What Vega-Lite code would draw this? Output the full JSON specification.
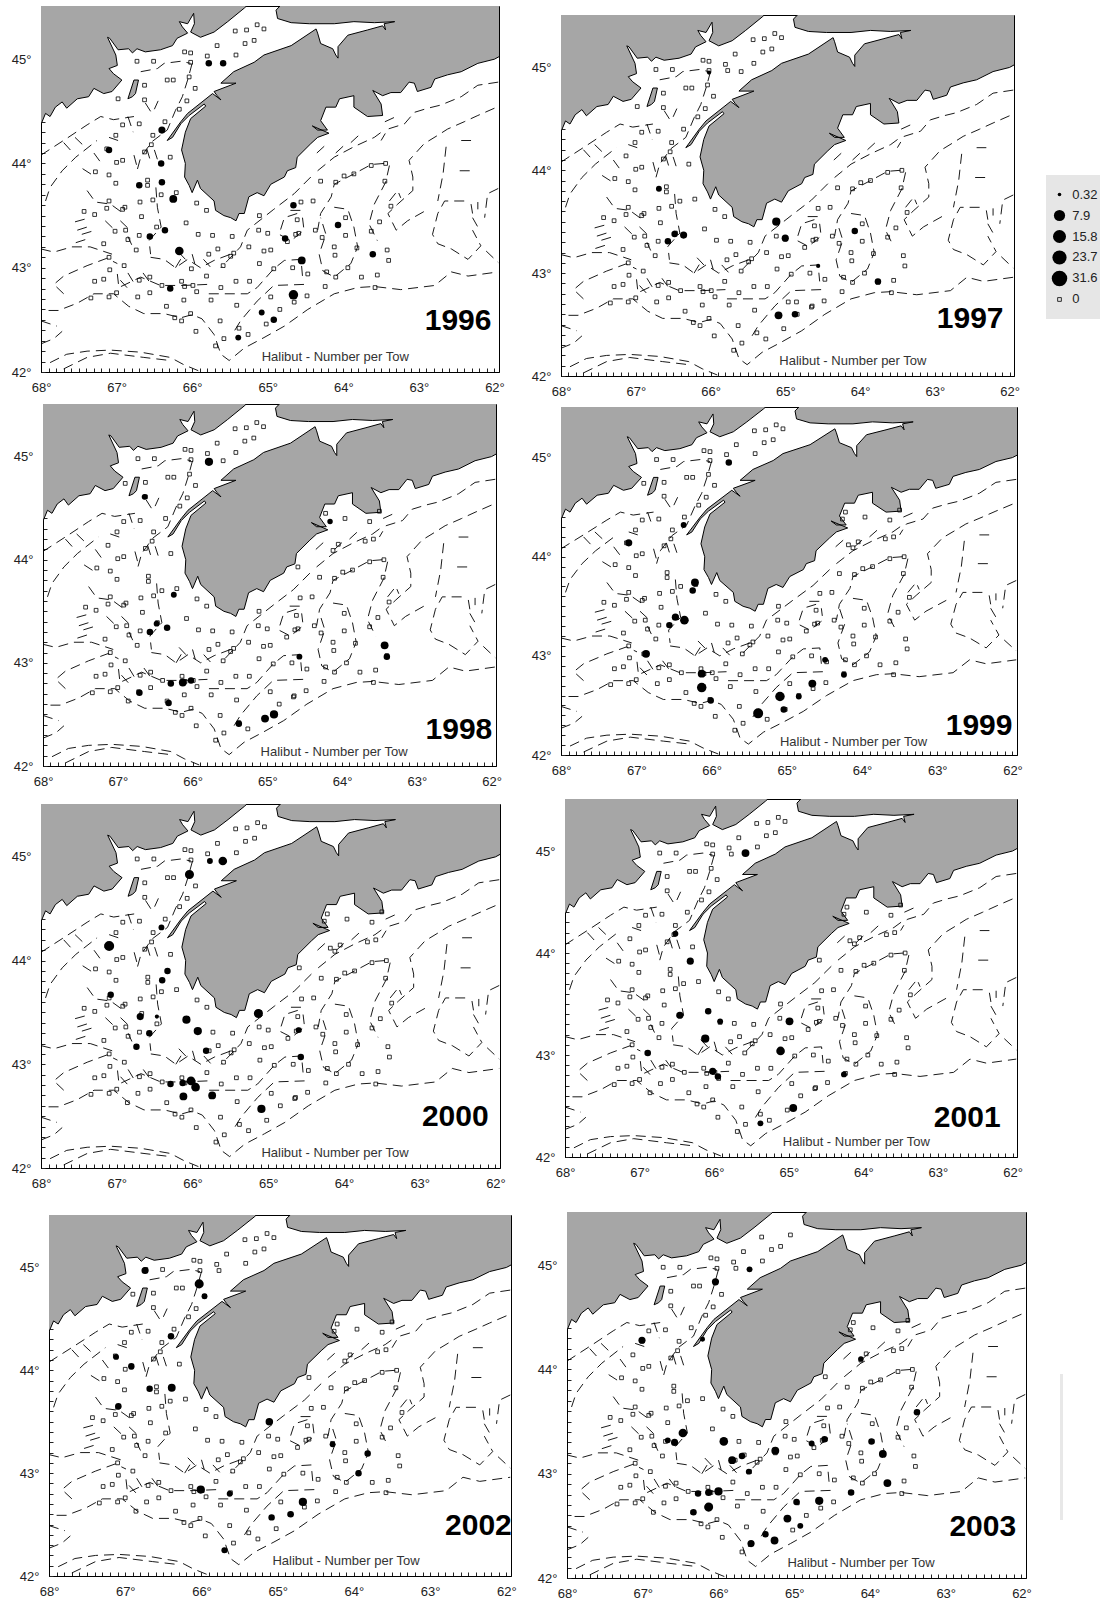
{"$schema":"https://vega.github.io/schema/vega-lite/v6.json","padding":0,"background":"white","spacing":0,"align":"none",
"config":{"view":{"stroke":null},"font":"Liberation Sans","axis":{"grid":false,"title":null,"labelFont":"Liberation Sans","labelFontSize":13,"labelColor":"#222","domainColor":"black","tickColor":"#222","tickSize":-4,"labelOverlap":false,"labelFlush":false},"axisX":{"tickCount":60,"labelPadding":13,"labelAngle":0},"axisY":{"tickCount":35,"labelPadding":14}},
"datasets":{
"sp":[{"s":1}],
"land":[
{"g":"a","lon":68.1,"lat":44.3},{"g":"a","lon":68,"lat":44.375},{"g":"a","lon":67.94,"lat":44.48},{"g":"a","lon":67.88,"lat":44.45},{"g":"a","lon":67.81,"lat":44.54},{"g":"a","lon":67.72,"lat":44.59},{"g":"a","lon":67.66,"lat":44.53},{"g":"a","lon":67.52,"lat":44.62},{"g":"a","lon":67.37,"lat":44.64},{"g":"a","lon":67.3,"lat":44.72},{"g":"a","lon":67.17,"lat":44.67},{"g":"a","lon":67.06,"lat":44.69},{"g":"a","lon":66.93,"lat":44.8},{"g":"a","lon":67.04,"lat":44.86},{"g":"a","lon":67.1,"lat":44.91},{"g":"a","lon":66.99,"lat":44.94},{"g":"a","lon":67.01,"lat":45.04},{"g":"a","lon":67.12,"lat":45.21},{"g":"a","lon":67.09,"lat":45.2},{"g":"a","lon":66.98,"lat":45.09},{"g":"a","lon":66.84,"lat":45.1},{"g":"a","lon":66.79,"lat":45.06},{"g":"a","lon":66.73,"lat":45.1},{"g":"a","lon":66.62,"lat":45.07},{"g":"a","lon":66.42,"lat":45.09},{"g":"a","lon":66.26,"lat":45.13},{"g":"a","lon":66.2,"lat":45.2},{"g":"a","lon":66.06,"lat":45.25},{"g":"a","lon":66.13,"lat":45.31},{"g":"a","lon":66.17,"lat":45.36},{"g":"a","lon":66.06,"lat":45.34},{"g":"a","lon":65.98,"lat":45.44},{"g":"a","lon":65.97,"lat":45.34},{"g":"a","lon":66.02,"lat":45.26},{"g":"a","lon":65.89,"lat":45.21},{"g":"a","lon":65.71,"lat":45.26},{"g":"a","lon":65.53,"lat":45.36},{"g":"a","lon":65.31,"lat":45.49},{"g":"a","lon":65.15,"lat":45.6},{"g":"a","lon":68.1,"lat":45.6},{"g":"a","lon":68.1,"lat":44.3},
{"g":"b","lon":64.72,"lat":45.6},{"g":"b","lon":64.89,"lat":45.47},{"g":"b","lon":64.87,"lat":45.39},{"g":"b","lon":64.69,"lat":45.35},{"g":"b","lon":64.45,"lat":45.34},{"g":"b","lon":64.12,"lat":45.34},{"g":"b","lon":63.86,"lat":45.36},{"g":"b","lon":63.59,"lat":45.35},{"g":"b","lon":63.32,"lat":45.36},{"g":"b","lon":63.46,"lat":45.34},{"g":"b","lon":63.44,"lat":45.28},{"g":"b","lon":63.48,"lat":45.32},{"g":"b","lon":63.68,"lat":45.28},{"g":"b","lon":63.94,"lat":45.23},{"g":"b","lon":64.07,"lat":45.12},{"g":"b","lon":64.07,"lat":45.01},{"g":"b","lon":64.1,"lat":45.04},{"g":"b","lon":64.14,"lat":45.1},{"g":"b","lon":64.3,"lat":45.15},{"g":"b","lon":64.34,"lat":45.25},{"g":"b","lon":64.36,"lat":45.29},{"g":"b","lon":64.69,"lat":45.13},{"g":"b","lon":65.05,"lat":45.04},{"g":"b","lon":65.18,"lat":44.97},{"g":"b","lon":65.45,"lat":44.88},{"g":"b","lon":65.62,"lat":44.77},{"g":"b","lon":65.42,"lat":44.77},{"g":"b","lon":65.71,"lat":44.69},{"g":"b","lon":65.67,"lat":44.65},{"g":"b","lon":65.62,"lat":44.61},{"g":"b","lon":65.73,"lat":44.67},{"g":"b","lon":66.06,"lat":44.48},{"g":"b","lon":66.15,"lat":44.4},{"g":"b","lon":66.33,"lat":44.22},{"g":"b","lon":66.26,"lat":44.25},{"g":"b","lon":66.15,"lat":44.38},{"g":"b","lon":66.04,"lat":44.46},{"g":"b","lon":65.84,"lat":44.57},{"g":"b","lon":65.82,"lat":44.55},{"g":"b","lon":66.02,"lat":44.43},{"g":"b","lon":66.09,"lat":44.3},{"g":"b","lon":66.14,"lat":44.13},{"g":"b","lon":66.09,"lat":44},{"g":"b","lon":66.1,"lat":43.87},{"g":"b","lon":66.04,"lat":43.79},{"g":"b","lon":66,"lat":43.72},{"g":"b","lon":65.93,"lat":43.84},{"g":"b","lon":65.89,"lat":43.76},{"g":"b","lon":65.71,"lat":43.64},{"g":"b","lon":65.69,"lat":43.55},{"g":"b","lon":65.58,"lat":43.5},{"g":"b","lon":65.49,"lat":43.48},{"g":"b","lon":65.42,"lat":43.45},{"g":"b","lon":65.38,"lat":43.52},{"g":"b","lon":65.31,"lat":43.52},{"g":"b","lon":65.25,"lat":43.68},{"g":"b","lon":65.14,"lat":43.72},{"g":"b","lon":65.05,"lat":43.69},{"g":"b","lon":64.96,"lat":43.8},{"g":"b","lon":64.78,"lat":43.87},{"g":"b","lon":64.74,"lat":43.93},{"g":"b","lon":64.63,"lat":43.96},{"g":"b","lon":64.61,"lat":44.06},{"g":"b","lon":64.43,"lat":44.19},{"g":"b","lon":64.34,"lat":44.25},{"g":"b","lon":64.19,"lat":44.29},{"g":"b","lon":64.41,"lat":44.36},{"g":"b","lon":64.34,"lat":44.32},{"g":"b","lon":64.21,"lat":44.32},{"g":"b","lon":64.3,"lat":44.41},{"g":"b","lon":64.23,"lat":44.54},{"g":"b","lon":64.1,"lat":44.54},{"g":"b","lon":64.05,"lat":44.62},{"g":"b","lon":63.86,"lat":44.65},{"g":"b","lon":63.86,"lat":44.54},{"g":"b","lon":63.68,"lat":44.45},{"g":"b","lon":63.48,"lat":44.46},{"g":"b","lon":63.5,"lat":44.57},{"g":"b","lon":63.61,"lat":44.7},{"g":"b","lon":63.48,"lat":44.65},{"g":"b","lon":63.37,"lat":44.68},{"g":"b","lon":63.24,"lat":44.68},{"g":"b","lon":63.13,"lat":44.78},{"g":"b","lon":63.06,"lat":44.77},{"g":"b","lon":63.02,"lat":44.69},{"g":"b","lon":62.84,"lat":44.73},{"g":"b","lon":62.79,"lat":44.81},{"g":"b","lon":62.62,"lat":44.85},{"g":"b","lon":62.44,"lat":44.88},{"g":"b","lon":62.22,"lat":44.96},{"g":"b","lon":62,"lat":45},{"g":"b","lon":61.9,"lat":45.04},{"g":"b","lon":61.9,"lat":45.6},{"g":"b","lon":64.72,"lat":45.6},
{"g":"c","lon":66.71,"lat":44.8},{"g":"c","lon":66.77,"lat":44.8},{"g":"c","lon":66.85,"lat":44.62},{"g":"c","lon":66.79,"lat":44.64},{"g":"c","lon":66.75,"lat":44.67},{"g":"c","lon":66.71,"lat":44.8}],
"cont":[
{"g":"A","lon":67.9,"lat":42.59},{"g":"A","lon":67.77,"lat":42.59},{"g":"A","lon":67.52,"lat":42.66},{"g":"A","lon":67.3,"lat":42.75},{"g":"A","lon":67.04,"lat":42.75},{"g":"A","lon":66.84,"lat":42.63},{"g":"A","lon":66.64,"lat":42.56},{"g":"A","lon":66.37,"lat":42.56},{"g":"A","lon":66.15,"lat":42.52},{"g":"A","lon":66,"lat":42.55},{"g":"A","lon":65.87,"lat":42.51},{"g":"A","lon":65.71,"lat":42.36},{"g":"A","lon":65.62,"lat":42.17},{"g":"A","lon":65.51,"lat":42.11},{"g":"A","lon":65.31,"lat":42.23},{"g":"A","lon":65.05,"lat":42.33},{"g":"A","lon":64.78,"lat":42.44},{"g":"A","lon":64.47,"lat":42.6},{"g":"A","lon":64.12,"lat":42.75},{"g":"A","lon":63.81,"lat":42.81},{"g":"A","lon":63.59,"lat":42.82},{"g":"A","lon":63.24,"lat":42.79},{"g":"A","lon":62.79,"lat":42.83},{"g":"A","lon":62.57,"lat":42.96},{"g":"A","lon":62.35,"lat":42.92},{"g":"A","lon":61.95,"lat":42.96},
{"g":"B","lon":67.7,"lat":42.75},{"g":"B","lon":67.83,"lat":42.84},{"g":"B","lon":67.7,"lat":42.92},{"g":"B","lon":67.39,"lat":43.02},{"g":"B","lon":67.13,"lat":43.09},{"g":"B","lon":66.99,"lat":43.04},
{"g":"C","lon":68,"lat":43.18},{"g":"C","lon":67.83,"lat":43.15},{"g":"C","lon":67.59,"lat":43.2},{"g":"C","lon":67.35,"lat":43.2},{"g":"C","lon":67.06,"lat":43.13},
{"g":"D","lon":68,"lat":44.08},{"g":"D","lon":67.83,"lat":44.16},{"g":"D","lon":67.66,"lat":44.24},{"g":"D","lon":67.39,"lat":44.37},{"g":"D","lon":67.21,"lat":44.45},{"g":"D","lon":67.04,"lat":44.42},{"g":"D","lon":66.77,"lat":44.45},
{"g":"D2","lon":67.94,"lat":43.64},{"g":"D2","lon":67.88,"lat":43.77},{"g":"D2","lon":67.72,"lat":43.93},{"g":"D2","lon":67.54,"lat":44.06},{"g":"D2","lon":67.26,"lat":44.22},
{"g":"E","lon":61.95,"lat":44.78},{"g":"E","lon":62.22,"lat":44.75},{"g":"E","lon":62.44,"lat":44.64},{"g":"E","lon":62.71,"lat":44.56},{"g":"E","lon":62.88,"lat":44.53},{"g":"E","lon":63.06,"lat":44.49},{"g":"E","lon":63.19,"lat":44.38},{"g":"E","lon":63.41,"lat":44.33},{"g":"E","lon":63.5,"lat":44.22},
{"g":"F","lon":62,"lat":44.53},{"g":"F","lon":62.22,"lat":44.46},{"g":"F","lon":62.4,"lat":44.4},{"g":"F","lon":62.62,"lat":44.33},{"g":"F","lon":62.75,"lat":44.27},{"g":"F","lon":62.93,"lat":44.19},{"g":"F","lon":63.13,"lat":44.03},{"g":"F","lon":63.08,"lat":43.87},{"g":"F","lon":63.08,"lat":43.74},{"g":"F","lon":63.28,"lat":43.61},{"g":"F","lon":63.41,"lat":43.52},{"g":"F","lon":63.3,"lat":43.36},{"g":"F","lon":63.15,"lat":43.45},{"g":"F","lon":62.88,"lat":43.56},
{"g":"F2","lon":62.4,"lat":43.64},{"g":"F2","lon":62.66,"lat":43.64},{"g":"F2","lon":62.75,"lat":43.52},{"g":"F2","lon":62.82,"lat":43.32},{"g":"F2","lon":62.75,"lat":43.23},{"g":"F2","lon":62.57,"lat":43.18},{"g":"F2","lon":62.35,"lat":43.08},{"g":"F2","lon":62.18,"lat":43.21},{"g":"F2","lon":62.29,"lat":43.36},
{"g":"F3","lon":62.64,"lat":44.16},{"g":"F3","lon":62.68,"lat":43.9},{"g":"F3","lon":62.75,"lat":43.64},
{"g":"F4","lon":61.95,"lat":43.76},{"g":"F4","lon":62.09,"lat":43.71},{"g":"F4","lon":62.13,"lat":43.48},
{"g":"F5","lon":62.11,"lat":43.16},{"g":"F5","lon":61.95,"lat":43.05},
{"g":"G","lon":64.43,"lat":43.87},{"g":"G","lon":64.65,"lat":43.71},{"g":"G","lon":64.92,"lat":43.56},{"g":"G","lon":65.27,"lat":43.36},{"g":"G","lon":65.36,"lat":43.2},{"g":"G","lon":65.49,"lat":43.1},{"g":"G","lon":65.62,"lat":43},
{"g":"G2","lon":63.46,"lat":44},{"g":"G2","lon":63.63,"lat":43.99},{"g":"G2","lon":63.86,"lat":43.9},{"g":"G2","lon":64.12,"lat":43.8},{"g":"G2","lon":64.16,"lat":43.68},{"g":"G2","lon":64.3,"lat":43.52},{"g":"G2","lon":64.34,"lat":43.36},
{"g":"H","lon":64.12,"lat":43.58},{"g":"H","lon":63.94,"lat":43.56},{"g":"H","lon":63.86,"lat":43.39},{"g":"H","lon":63.81,"lat":43.2},{"g":"H","lon":63.9,"lat":43.04},{"g":"H","lon":64.12,"lat":42.91},{"g":"H","lon":64.27,"lat":42.97},{"g":"H","lon":64.32,"lat":43.13},{"g":"H","lon":64.23,"lat":43.32},{"g":"H","lon":64.3,"lat":43.48},
{"g":"I","lon":64.61,"lat":43.52},{"g":"I","lon":64.78,"lat":43.48},{"g":"I","lon":64.85,"lat":43.32},{"g":"I","lon":64.69,"lat":43.26},{"g":"I","lon":64.52,"lat":43.36},{"g":"I","lon":64.54,"lat":43.48},
{"g":"J","lon":63.39,"lat":43.98},{"g":"J","lon":63.44,"lat":43.82},{"g":"J","lon":63.59,"lat":43.61},{"g":"J","lon":63.66,"lat":43.42},{"g":"J","lon":63.55,"lat":43.26},
{"g":"K1","lon":67.88,"lat":42.09},{"g":"K1","lon":67.66,"lat":42.17},{"g":"K1","lon":67.39,"lat":42.2},{"g":"K1","lon":67.08,"lat":42.21},{"g":"K1","lon":66.68,"lat":42.19},{"g":"K1","lon":66.29,"lat":42.14},{"g":"K1","lon":66.11,"lat":42.07},{"g":"K1","lon":65.91,"lat":42.01},
{"g":"K2","lon":67.7,"lat":42.03},{"g":"K2","lon":67.39,"lat":42.14},{"g":"K2","lon":67.08,"lat":42.18},{"g":"K2","lon":66.64,"lat":42.14},{"g":"K2","lon":66.29,"lat":42.11},
{"g":"L","lon":65.78,"lat":42.75},{"g":"L","lon":65.27,"lat":42.75},{"g":"L","lon":65.14,"lat":42.81},{"g":"L","lon":64.92,"lat":42.99},{"g":"L","lon":64.78,"lat":43.07},{"g":"L","lon":64.56,"lat":43.08},{"g":"L","lon":64.54,"lat":42.92},
{"g":"L2","lon":64.52,"lat":42.84},{"g":"L2","lon":64.92,"lat":42.83},{"g":"L2","lon":65.14,"lat":42.68},{"g":"L2","lon":65.36,"lat":42.49},{"g":"L2","lon":65.47,"lat":42.36},
{"g":"M","lon":66.55,"lat":43.1},{"g":"M","lon":66.37,"lat":43.08},{"g":"M","lon":66.22,"lat":43},{"g":"M","lon":66.06,"lat":43.08},{"g":"M","lon":65.89,"lat":43},{"g":"M","lon":65.71,"lat":43.07},{"g":"M","lon":65.49,"lat":43.13},
{"g":"N","lon":67.39,"lat":43.74},{"g":"N","lon":67.28,"lat":43.63},{"g":"N","lon":67.08,"lat":43.61},{"g":"N","lon":66.91,"lat":43.52},
{"g":"O","lon":66.48,"lat":43.77},{"g":"O","lon":66.46,"lat":43.58},{"g":"O","lon":66.41,"lat":43.39},{"g":"O","lon":66.57,"lat":43.26},{"g":"O","lon":66.55,"lat":43.13},
{"g":"P","lon":66.99,"lat":42.94},{"g":"P","lon":66.97,"lat":42.81},{"g":"P","lon":66.68,"lat":42.91},{"g":"P","lon":66.42,"lat":42.83},{"g":"P","lon":66.11,"lat":42.83},{"g":"P","lon":65.8,"lat":42.84},
{"g":"Q","lon":68,"lat":42.49},{"g":"Q","lon":67.79,"lat":42.44},
{"g":"Q2","lon":68,"lat":42.27},{"g":"Q2","lon":67.83,"lat":42.32},{"g":"Q2","lon":67.72,"lat":42.39},
{"g":"R","lon":66.68,"lat":44.88},{"g":"R","lon":66.46,"lat":44.91},{"g":"R","lon":66.37,"lat":44.96},{"g":"R","lon":66.15,"lat":44.98},{"g":"R","lon":66.02,"lat":44.96},
{"g":"S","lon":66,"lat":44.96},{"g":"S","lon":66.06,"lat":44.8},{"g":"S","lon":66.13,"lat":44.64},{"g":"S","lon":66.22,"lat":44.51},{"g":"S","lon":66.33,"lat":44.32},{"g":"S","lon":66.53,"lat":44.21},{"g":"S","lon":66.68,"lat":44.06},{"g":"S","lon":66.73,"lat":43.93},
{"g":"U","lon":64.34,"lat":43.93},{"g":"U","lon":64.12,"lat":44.06},{"g":"U","lon":63.86,"lat":44.16},{"g":"U","lon":63.59,"lat":44.25},{"g":"U","lon":63.46,"lat":44.32},
{"g":"V1","lon":67.52,"lat":43.36},{"g":"V1","lon":67.39,"lat":43.39},{"g":"V2","lon":67.46,"lat":43.32},{"g":"V2","lon":67.28,"lat":43.36},{"g":"V3","lon":67.54,"lat":43.24},{"g":"V3","lon":67.37,"lat":43.28},{"g":"V4","lon":62.46,"lat":43.93},{"g":"V4","lon":62.31,"lat":43.93},
{"g":"W","lon":63.39,"lat":43.64},{"g":"W","lon":63.28,"lat":43.74},{"g":"W","lon":63.24,"lat":43.67},{"g":"W2","lon":62.31,"lat":43.61},{"g":"W2","lon":62.29,"lat":43.52},{"g":"W3","lon":62.22,"lat":43.63},{"g":"W3","lon":62.22,"lat":43.56},{"g":"W4","lon":62.29,"lat":43.48},{"g":"W4","lon":62.22,"lat":43.39},{"g":"X","lon":62.44,"lat":44.22},{"g":"X","lon":62.31,"lat":44.22},
{"g":"s1","lon":66.77,"lat":44.08},{"g":"s1","lon":66.73,"lat":43.97},{"g":"s2","lon":66.6,"lat":44.14},{"g":"s2","lon":66.55,"lat":44.02},{"g":"s3","lon":66.5,"lat":44.13},{"g":"s3","lon":66.46,"lat":44.04},{"g":"s4","lon":66.85,"lat":44.45},{"g":"s4","lon":66.78,"lat":44.3},{"g":"s5","lon":66.62,"lat":44.58},{"g":"s5","lon":66.55,"lat":44.5},{"g":"s6","lon":66.45,"lat":44.6},{"g":"s6","lon":66.5,"lat":44.52},{"g":"s7","lon":67.7,"lat":44.2},{"g":"s7","lon":67.6,"lat":44.12},{"g":"s8","lon":67.55,"lat":44.25},{"g":"s8","lon":67.45,"lat":44.18},{"g":"s9","lon":67.45,"lat":43.95},{"g":"s9","lon":67.3,"lat":43.88},{"g":"s10","lon":67.3,"lat":44.1},{"g":"s10","lon":67.2,"lat":44},{"g":"s11","lon":67.1,"lat":44.25},{"g":"s11","lon":66.98,"lat":44.22},{"g":"s12","lon":66.95,"lat":43.45},{"g":"s12","lon":66.85,"lat":43.38},{"g":"s13","lon":66.85,"lat":43.3},{"g":"s13","lon":66.8,"lat":43.22},{"g":"s14","lon":67.15,"lat":43.45},{"g":"s14","lon":67.05,"lat":43.38},{"g":"s15","lon":67.55,"lat":43.44},{"g":"s15","lon":67.4,"lat":43.47},{"g":"s16","lon":66.22,"lat":43},{"g":"s16","lon":66.12,"lat":43.12},{"g":"s17","lon":66,"lat":43.13},{"g":"s17","lon":65.95,"lat":43},{"g":"s18","lon":66.18,"lat":43.15},{"g":"s18","lon":66.05,"lat":43.05},{"g":"s19","lon":65.85,"lat":43.08},{"g":"s19","lon":65.75,"lat":43},{"g":"s20","lon":66.85,"lat":42.95},{"g":"s20","lon":66.75,"lat":42.83},{"g":"s21","lon":66.65,"lat":42.95},{"g":"s21","lon":66.55,"lat":42.85},{"g":"s22","lon":66.95,"lat":42.88},{"g":"s22","lon":66.85,"lat":42.8},{"g":"s23","lon":64.35,"lat":44.1},{"g":"s23","lon":64.2,"lat":44.2},{"g":"s24","lon":64.1,"lat":44.1},{"g":"s24","lon":63.95,"lat":44.2},{"g":"s25","lon":63.9,"lat":44.2},{"g":"s25","lon":63.75,"lat":44.3},{"g":"s26","lon":63.45,"lat":44.4},{"g":"s26","lon":63.3,"lat":44.45},{"g":"s27","lon":64.7,"lat":43.55},{"g":"s27","lon":64.5,"lat":43.55}],
"st":[
{"lon":65.43,"lat":45.27,"ys":"all"},{"lon":65.28,"lat":45.28,"ys":"96 97 98 99 00 01 02"},{"lon":65.14,"lat":45.33,"ys":"96 97 98 99 00 01 02"},{"lon":65.05,"lat":45.29,"ys":"all"},{"lon":65.67,"lat":45.13,"ys":"all"},{"lon":65.3,"lat":45.15,"ys":"all"},{"lon":65.18,"lat":45.18,"ys":"all"},{"lon":65.42,"lat":45.04,"ys":"all"},{"lon":65.8,"lat":45.03,"ys":"all"},{"lon":66.1,"lat":45.07,"ys":"all"},{"lon":66.02,"lat":45.06,"ys":"all"},{"lon":66.73,"lat":44.98,"ys":"all"},{"lon":66.51,"lat":44.98,"ys":"all"},{"lon":66.02,"lat":44.97,"ys":"all"},{"lon":66.04,"lat":44.83,"ys":"all"},{"lon":66.33,"lat":44.8,"ys":"all"},{"lon":66.25,"lat":44.8,"ys":"all"},{"lon":65.96,"lat":44.72,"ys":"all"},{"lon":66.07,"lat":44.6,"ys":"all"},{"lon":66.17,"lat":44.52,"ys":"all"},{"lon":66.98,"lat":44.62,"ys":"96 97"},{"lon":66.63,"lat":44.75,"ys":"all"},{"lon":66.63,"lat":44.61,"ys":"all"},{"lon":66.36,"lat":44.4,"ys":"all"},{"lon":66.7,"lat":44.38,"ys":"all"},{"lon":66.92,"lat":44.37,"ys":"all"},{"lon":67.01,"lat":44.27,"ys":"all"},{"lon":66.52,"lat":44.27,"ys":"all"},{"lon":66.54,"lat":44.18,"ys":"all"},{"lon":66.63,"lat":44.11,"ys":"all"},{"lon":66.29,"lat":44.06,"ys":"96 97 98 00 01 02"},{"lon":67.13,"lat":44.14,"ys":"all"},{"lon":67,"lat":44.01,"ys":"all"},{"lon":66.92,"lat":44.03,"ys":"all"},{"lon":67.28,"lat":43.92,"ys":"all"},{"lon":67.1,"lat":43.89,"ys":"all"},{"lon":67.01,"lat":43.81,"ys":"all"},{"lon":66.59,"lat":43.79,"ys":"all"},{"lon":66.59,"lat":43.84,"ys":"all"},{"lon":66.21,"lat":43.72,"ys":"all"},{"lon":66.41,"lat":43.7,"ys":"all"},{"lon":66.52,"lat":43.65,"ys":"all"},{"lon":66.69,"lat":43.63,"ys":"all"},{"lon":67.1,"lat":43.64,"ys":"all"},{"lon":65.94,"lat":43.62,"ys":"all"},{"lon":65.81,"lat":43.55,"ys":"all"},{"lon":66.89,"lat":43.58,"ys":"all"},{"lon":67.13,"lat":43.57,"ys":"all"},{"lon":66.92,"lat":43.56,"ys":"all"},{"lon":67.43,"lat":43.54,"ys":"all"},{"lon":67.29,"lat":43.51,"ys":"all"},{"lon":66.67,"lat":43.49,"ys":"all"},{"lon":65.11,"lat":43.5,"ys":"all"},{"lon":66.08,"lat":43.43,"ys":"all"},{"lon":66.47,"lat":43.39,"ys":"all"},{"lon":64.61,"lat":43.46,"ys":"all"},{"lon":63.45,"lat":43.83,"ys":"all"},{"lon":63.44,"lat":44,"ys":"all"},{"lon":63.63,"lat":43.98,"ys":"all"},{"lon":63.86,"lat":43.9,"ys":"all"},{"lon":63.99,"lat":43.88,"ys":"all"},{"lon":64.1,"lat":43.82,"ys":"all"},{"lon":64.3,"lat":43.83,"ys":"all"},{"lon":64.56,"lat":43.63,"ys":"all"},{"lon":64.4,"lat":43.64,"ys":"all"},{"lon":63.37,"lat":43.59,"ys":"all"},{"lon":63.52,"lat":43.44,"ys":"all"},{"lon":63.97,"lat":43.48,"ys":"all"},{"lon":64.37,"lat":43.36,"ys":"all"},{"lon":64.28,"lat":43.29,"ys":"all"},{"lon":63.97,"lat":43.31,"ys":"all"},{"lon":63.63,"lat":43.35,"ys":"all"},{"lon":65.12,"lat":43.36,"ys":"all"},{"lon":65,"lat":43.33,"ys":"all"},{"lon":64.59,"lat":43.33,"ys":"all"},{"lon":64.63,"lat":43.32,"ys":"all"},{"lon":64.74,"lat":43.25,"ys":"all"},{"lon":65.47,"lat":43.3,"ys":"all"},{"lon":65.73,"lat":43.31,"ys":"all"},{"lon":65.92,"lat":43.32,"ys":"all"},{"lon":66.7,"lat":43.31,"ys":"all"},{"lon":66.88,"lat":43.36,"ys":"all"},{"lon":67.02,"lat":43.35,"ys":"all"},{"lon":66.85,"lat":43.27,"ys":"all"},{"lon":67.17,"lat":43.23,"ys":"all"},{"lon":66.74,"lat":43.17,"ys":"all"},{"lon":65.25,"lat":43.2,"ys":"all"},{"lon":65.45,"lat":43.14,"ys":"all"},{"lon":65.49,"lat":43.11,"ys":"all"},{"lon":65.66,"lat":43.18,"ys":"all"},{"lon":65.78,"lat":43.13,"ys":"all"},{"lon":65.05,"lat":43.16,"ys":"all"},{"lon":64.96,"lat":43.17,"ys":"all"},{"lon":63.42,"lat":43.17,"ys":"all"},{"lon":64.12,"lat":43.2,"ys":"all"},{"lon":64.11,"lat":43.12,"ys":"all"},{"lon":63.82,"lat":43.19,"ys":"all"},{"lon":63.4,"lat":43.07,"ys":"all"},{"lon":63.94,"lat":43,"ys":"all"},{"lon":67.1,"lat":43.1,"ys":"all"},{"lon":67.09,"lat":42.98,"ys":"all"},{"lon":66.9,"lat":43.02,"ys":"all"},{"lon":65.59,"lat":43.02,"ys":"all"},{"lon":65.11,"lat":43.04,"ys":"all"},{"lon":64.92,"lat":42.99,"ys":"all"},{"lon":64.67,"lat":43,"ys":"all"},{"lon":64.47,"lat":42.94,"ys":"all"},{"lon":64.22,"lat":42.96,"ys":"all"},{"lon":63.55,"lat":42.93,"ys":"all"},{"lon":63.76,"lat":42.91,"ys":"all"},{"lon":64.1,"lat":42.91,"ys":"all"},{"lon":66.01,"lat":42.99,"ys":"96"},{"lon":65.81,"lat":42.92,"ys":"all"},{"lon":67.29,"lat":42.87,"ys":"all"},{"lon":67.17,"lat":42.89,"ys":"all"},{"lon":66.56,"lat":42.91,"ys":"all"},{"lon":66.7,"lat":42.88,"ys":"all"},{"lon":66.14,"lat":42.87,"ys":"all"},{"lon":66.1,"lat":42.82,"ys":"all"},{"lon":65.99,"lat":42.83,"ys":"all"},{"lon":66.4,"lat":42.83,"ys":"all"},{"lon":65.42,"lat":42.87,"ys":"all"},{"lon":65.24,"lat":42.87,"ys":"all"},{"lon":65.62,"lat":42.81,"ys":"all"},{"lon":64.24,"lat":42.82,"ys":"all"},{"lon":63.58,"lat":42.81,"ys":"all"},{"lon":67.34,"lat":42.71,"ys":"all"},{"lon":67.1,"lat":42.72,"ys":"all"},{"lon":67,"lat":42.76,"ys":"all"},{"lon":66.72,"lat":42.72,"ys":"all"},{"lon":66.56,"lat":42.76,"ys":"all"},{"lon":65.94,"lat":42.77,"ys":"all"},{"lon":66.11,"lat":42.69,"ys":"all"},{"lon":65.75,"lat":42.69,"ys":"all"},{"lon":64.96,"lat":42.72,"ys":"all"},{"lon":64.48,"lat":42.73,"ys":"all"},{"lon":64.65,"lat":42.67,"ys":"all"},{"lon":66.34,"lat":42.63,"ys":"all"},{"lon":65.41,"lat":42.64,"ys":"all"},{"lon":64.84,"lat":42.6,"ys":"all"},{"lon":66.23,"lat":42.52,"ys":"all"},{"lon":66.14,"lat":42.49,"ys":"all"},{"lon":66.02,"lat":42.56,"ys":"all"},{"lon":65.63,"lat":42.49,"ys":"all"},{"lon":65.02,"lat":42.46,"ys":"all"},{"lon":65.95,"lat":42.39,"ys":"all"},{"lon":65.38,"lat":42.42,"ys":"all"},{"lon":65.26,"lat":42.36,"ys":"all"},{"lon":65.58,"lat":42.32,"ys":"all"},{"lon":65.69,"lat":42.25,"ys":"all"},
{"lon":64.64,"lat":42.68,"ys":"97 98 00 01"},{"lon":64.85,"lat":42.72,"ys":"97"},{"lon":65.77,"lat":44.97,"ys":"97 01 02 03"},{"lon":65.59,"lat":44.96,"ys":"97 98"},{"lon":66.9,"lat":44.74,"ys":"98 99 02"},{"lon":66.86,"lat":42.63,"ys":"98 00 01 02 03"},
{"lon":64.22,"lat":44.45,"ys":"98 99 00 01 02 03"},{"lon":63.96,"lat":44.4,"ys":"98 99 00 01 02 03"},{"lon":63.63,"lat":44.37,"ys":"98 99 00 01 02 03"},{"lon":63.69,"lat":44.18,"ys":"98 99 00 01 02 03"},{"lon":63.58,"lat":44.2,"ys":"98 99 00 01 02 03"},{"lon":63.5,"lat":44.47,"ys":"98 99 00 01 02 03"},{"lon":64.12,"lat":44.09,"ys":"98 99 00 01 02 03"},{"lon":64.05,"lat":44.15,"ys":"98 99 00 01 02 03"},{"lon":64.59,"lat":43.93,"ys":"98 00 01 02 03"},{"lon":64.26,"lat":44.38,"ys":"99 00 01 02 03"},{"lon":64.18,"lat":44.12,"ys":"99 00 01"}],
"pts":[
{"y":1996,"lon":65.78,"lat":44.96,"n":1.5},{"y":1996,"lon":65.59,"lat":44.96,"n":1.5},{"y":1996,"lon":66.4,"lat":44.32,"n":2.2},{"y":1996,"lon":67.1,"lat":44.13,"n":1.5},{"y":1996,"lon":66.41,"lat":44,"n":1.5},{"y":1996,"lon":66.7,"lat":43.79,"n":1.5},{"y":1996,"lon":66.4,"lat":43.82,"n":1.5},{"y":1996,"lon":66.25,"lat":43.66,"n":3},{"y":1996,"lon":64.66,"lat":43.6,"n":1.5},{"y":1996,"lon":64.07,"lat":43.41,"n":1.5},{"y":1996,"lon":66.36,"lat":43.36,"n":1.5},{"y":1996,"lon":66.56,"lat":43.3,"n":1.5},{"y":1996,"lon":64.77,"lat":43.28,"n":1.5},{"y":1996,"lon":66.17,"lat":43.16,"n":4},{"y":1996,"lon":64.55,"lat":43.07,"n":3},{"y":1996,"lon":63.61,"lat":43.13,"n":1.5},{"y":1996,"lon":66.29,"lat":42.8,"n":1.5},{"y":1996,"lon":64.66,"lat":42.74,"n":5.2},{"y":1996,"lon":65.08,"lat":42.57,"n":1.2},{"y":1996,"lon":64.92,"lat":42.5,"n":1.5},{"y":1996,"lon":65.39,"lat":42.33,"n":1.2},
{"y":1997,"lon":66.69,"lat":43.82,"n":1.2},{"y":1997,"lon":66.48,"lat":43.38,"n":1.5},{"y":1997,"lon":66.36,"lat":43.37,"n":2.2},{"y":1997,"lon":66.57,"lat":43.31,"n":1.5},{"y":1997,"lon":65.12,"lat":43.5,"n":3.5},{"y":1997,"lon":65,"lat":43.34,"n":2.2},{"y":1997,"lon":64.07,"lat":43.41,"n":1.5},{"y":1997,"lon":63.76,"lat":42.92,"n":1.5},{"y":1997,"lon":65.09,"lat":42.59,"n":3},{"y":1997,"lon":64.87,"lat":42.6,"n":1.5},{"y":1997,"lon":64.56,"lat":43.07,"n":0.5},{"y":1997,"lon":66.02,"lat":44.95,"n":0.5},
{"y":1998,"lon":65.78,"lat":44.95,"n":3.5},{"y":1998,"lon":66.64,"lat":44.61,"n":1.2},{"y":1998,"lon":64.16,"lat":44.37,"n":1},{"y":1998,"lon":66.25,"lat":43.66,"n":1.2},{"y":1998,"lon":66.48,"lat":43.38,"n":1.2},{"y":1998,"lon":66.34,"lat":43.34,"n":1.5},{"y":1998,"lon":66.57,"lat":43.3,"n":1.5},{"y":1998,"lon":64.57,"lat":43.06,"n":1.2},{"y":1998,"lon":63.43,"lat":43.17,"n":3},{"y":1998,"lon":63.4,"lat":43.06,"n":1.5},{"y":1998,"lon":66.71,"lat":42.71,"n":1.5},{"y":1998,"lon":66.29,"lat":42.8,"n":1.5},{"y":1998,"lon":66.13,"lat":42.81,"n":3},{"y":1998,"lon":66.02,"lat":42.83,"n":1.5},{"y":1998,"lon":66.32,"lat":42.61,"n":1.5},{"y":1998,"lon":65.38,"lat":42.41,"n":1.5},{"y":1998,"lon":65.03,"lat":42.46,"n":3},{"y":1998,"lon":64.91,"lat":42.5,"n":3.5},
{"y":1999,"lon":65.77,"lat":44.95,"n":1.5},{"y":1999,"lon":66.37,"lat":44.32,"n":1.2},{"y":1999,"lon":67.1,"lat":44.14,"n":2.2},{"y":1999,"lon":66.22,"lat":43.74,"n":3},{"y":1999,"lon":66.25,"lat":43.66,"n":1.5},{"y":1999,"lon":66.48,"lat":43.39,"n":2.2},{"y":1999,"lon":66.36,"lat":43.36,"n":4},{"y":1999,"lon":66.56,"lat":43.31,"n":1.5},{"y":1999,"lon":66.87,"lat":43.02,"n":3},{"y":1999,"lon":66.13,"lat":42.82,"n":3},{"y":1999,"lon":66.13,"lat":42.68,"n":5.2},{"y":1999,"lon":66.01,"lat":42.55,"n":1.5},{"y":1999,"lon":65.09,"lat":42.59,"n":5.2},{"y":1999,"lon":64.84,"lat":42.59,"n":1.2},{"y":1999,"lon":65.04,"lat":42.46,"n":1.5},{"y":1999,"lon":65.38,"lat":42.42,"n":6},{"y":1999,"lon":64.66,"lat":42.72,"n":3},{"y":1999,"lon":64.49,"lat":42.96,"n":1.2},{"y":1999,"lon":64.24,"lat":42.81,"n":1.2},
{"y":2000,"lon":65.6,"lat":44.96,"n":4},{"y":2000,"lon":65.77,"lat":44.96,"n":1.2},{"y":2000,"lon":66.04,"lat":44.83,"n":4.6},{"y":2000,"lon":66.41,"lat":44.32,"n":1.2},{"y":2000,"lon":67.1,"lat":44.14,"n":6},{"y":2000,"lon":66.33,"lat":43.9,"n":1.5},{"y":2000,"lon":66.4,"lat":43.81,"n":1.5},{"y":2000,"lon":67.08,"lat":43.67,"n":1.5},{"y":2000,"lon":65.13,"lat":43.49,"n":4.6},{"y":2000,"lon":66.69,"lat":43.46,"n":2.2},{"y":2000,"lon":66.08,"lat":43.43,"n":3.5},{"y":2000,"lon":65.93,"lat":43.32,"n":3.5},{"y":2000,"lon":66.57,"lat":43.3,"n":1.5},{"y":2000,"lon":64.6,"lat":43.33,"n":1.2},{"y":2000,"lon":66.74,"lat":43.17,"n":1.5},{"y":2000,"lon":65.82,"lat":43.13,"n":1.5},{"y":2000,"lon":64.57,"lat":43.07,"n":1.5},{"y":2000,"lon":66.47,"lat":43.46,"n":0.5},{"y":2000,"lon":66.29,"lat":42.81,"n":1.5},{"y":2000,"lon":66.13,"lat":42.82,"n":1.5},{"y":2000,"lon":66.02,"lat":42.84,"n":4},{"y":2000,"lon":65.96,"lat":42.78,"n":4},{"y":2000,"lon":66.12,"lat":42.69,"n":3},{"y":2000,"lon":65.74,"lat":42.7,"n":3},{"y":2000,"lon":65.09,"lat":42.57,"n":3.5},
{"y":2001,"lon":65.58,"lat":44.98,"n":3},{"y":2001,"lon":66.52,"lat":44.19,"n":1.2},{"y":2001,"lon":66.32,"lat":43.92,"n":2.2},{"y":2001,"lon":66.08,"lat":43.43,"n":1.5},{"y":2001,"lon":66.46,"lat":43.39,"n":2.2},{"y":2001,"lon":65.92,"lat":43.33,"n":1.2},{"y":2001,"lon":64.99,"lat":43.33,"n":3},{"y":2001,"lon":66.12,"lat":43.16,"n":3.5},{"y":2001,"lon":65.11,"lat":43.04,"n":4},{"y":2001,"lon":66.89,"lat":43.02,"n":1.5},{"y":2001,"lon":66.02,"lat":42.84,"n":2.2},{"y":2001,"lon":65.95,"lat":42.79,"n":1.5},{"y":2001,"lon":64.26,"lat":42.81,"n":1.2},{"y":2001,"lon":64.94,"lat":42.48,"n":3},{"y":2001,"lon":65.38,"lat":42.33,"n":1.2},
{"y":2002,"lon":66.74,"lat":44.97,"n":2.2},{"y":2002,"lon":66.03,"lat":44.84,"n":4.6},{"y":2002,"lon":65.96,"lat":44.72,"n":1.2},{"y":2002,"lon":66.4,"lat":44.33,"n":1.5},{"y":2002,"lon":67.12,"lat":44.13,"n":1.2},{"y":2002,"lon":66.92,"lat":44.04,"n":1.5},{"y":2002,"lon":66.68,"lat":43.82,"n":1.5},{"y":2002,"lon":66.39,"lat":43.83,"n":3},{"y":2002,"lon":67.09,"lat":43.65,"n":1.5},{"y":2002,"lon":65.11,"lat":43.5,"n":2.6},{"y":2002,"lon":64.28,"lat":43.28,"n":1.2},{"y":2002,"lon":63.82,"lat":43.19,"n":1.5},{"y":2002,"lon":63.94,"lat":43,"n":1.5},{"y":2002,"lon":66.01,"lat":42.84,"n":3.5},{"y":2002,"lon":65.63,"lat":42.8,"n":1.2},{"y":2002,"lon":64.67,"lat":42.72,"n":3.5},{"y":2002,"lon":65.08,"lat":42.57,"n":1.5},{"y":2002,"lon":64.83,"lat":42.6,"n":1.5},{"y":2002,"lon":65.7,"lat":42.25,"n":1.2},
{"y":2003,"lon":67.01,"lat":44.28,"n":2.2},{"y":2003,"lon":65.59,"lat":44.96,"n":1.2},{"y":2003,"lon":66.04,"lat":44.84,"n":2.2},{"y":2003,"lon":66.21,"lat":44.29,"n":0.8},{"y":2003,"lon":64.12,"lat":44.1,"n":1},{"y":2003,"lon":63.38,"lat":43.59,"n":1.5},{"y":2003,"lon":66.47,"lat":43.39,"n":4},{"y":2003,"lon":66.58,"lat":43.3,"n":2.2},{"y":2003,"lon":66.67,"lat":43.32,"n":1.2},{"y":2003,"lon":65.93,"lat":43.31,"n":4},{"y":2003,"lon":65.25,"lat":43.22,"n":3},{"y":2003,"lon":64.77,"lat":43.29,"n":1.2},{"y":2003,"lon":64.6,"lat":43.33,"n":1.5},{"y":2003,"lon":63.98,"lat":43.31,"n":1.5},{"y":2003,"lon":63.83,"lat":43.19,"n":3},{"y":2003,"lon":65.69,"lat":43.17,"n":1.5},{"y":2003,"lon":65.82,"lat":43.13,"n":3},{"y":2003,"lon":65.6,"lat":43.02,"n":1.2},{"y":2003,"lon":63.77,"lat":42.91,"n":3},{"y":2003,"lon":64.25,"lat":42.82,"n":1.5},{"y":2003,"lon":66.27,"lat":42.81,"n":1.5},{"y":2003,"lon":66.13,"lat":42.82,"n":2.2},{"y":2003,"lon":66,"lat":42.83,"n":3.5},{"y":2003,"lon":66.13,"lat":42.68,"n":4.6},{"y":2003,"lon":66.33,"lat":42.63,"n":1.5},{"y":2003,"lon":64.67,"lat":42.74,"n":3.5},{"y":2003,"lon":64.97,"lat":42.73,"n":1.5},{"y":2003,"lon":65.09,"lat":42.57,"n":3},{"y":2003,"lon":64.92,"lat":42.5,"n":1.2},{"y":2003,"lon":65.38,"lat":42.42,"n":1.5},{"y":2003,"lon":65.26,"lat":42.36,"n":3},{"y":2003,"lon":65.57,"lat":42.33,"n":2.2}],
"txt":[
{"y":1996,"k":"y","lon":62.04,"lat":42.49,"t":"1996"},{"y":1996,"k":"h","lon":65.08,"lat":42.14,"t":"Halibut - Number per Tow"},
{"y":1997,"k":"y","lon":62.08,"lat":42.55,"t":"1997"},{"y":1997,"k":"h","lon":65.08,"lat":42.145,"t":"Halibut - Number per Tow"},
{"y":1998,"k":"y","lon":61.99,"lat":42.35,"t":"1998"},{"y":1998,"k":"h","lon":65.09,"lat":42.14,"t":"Halibut - Number per Tow"},
{"y":1999,"k":"y","lon":62,"lat":42.29,"t":"1999"},{"y":1999,"k":"h","lon":65.09,"lat":42.13,"t":"Halibut - Number per Tow"},
{"y":2000,"k":"y","lon":62.09,"lat":42.49,"t":"2000"},{"y":2000,"k":"h","lon":65.09,"lat":42.14,"t":"Halibut - Number per Tow"},
{"y":2001,"k":"y","lon":62.16,"lat":42.38,"t":"2001"},{"y":2001,"k":"h","lon":65.08,"lat":42.15,"t":"Halibut - Number per Tow"},
{"y":2002,"k":"y","lon":61.93,"lat":42.49,"t":"2002"},{"y":2002,"k":"h","lon":65.07,"lat":42.15,"t":"Halibut - Number per Tow"},
{"y":2003,"k":"y","lon":62.07,"lat":42.49,"t":"2003"},{"y":2003,"k":"h","lon":65.09,"lat":42.14,"t":"Halibut - Number per Tow"}],
"leg":[{"l":"0.32","n":0.32},{"l":"7.9","n":7.9},{"l":"15.8","n":15.8},{"l":"23.7","n":23.7},{"l":"31.6","n":31.6},{"l":"0","n":0}]
},
"hconcat":[
{"vconcat":[
{"hconcat":[{"width":41,"height":1,"data":{"name":"sp"},"mark":{"type":"rect","opacity":0},"encoding":{"x":{"value":0},"x2":{"value":"width"},"y":{"value":0},"y2":{"value":"height"}}},
{"width":458,"height":366,"view":{"stroke":"black"},"encoding":{"x":{"field":"lon","type":"quantitative","scale":{"domain":[68,61.94]},"axis":{"labelExpr":"datum.value%1==0?datum.value+'°':''"}},"y":{"field":"lat","type":"quantitative","scale":{"domain":[42,45.51]},"axis":{"labelExpr":"datum.value%1==0?datum.value+'°':''"}}},"layer":[
{"data":{"name":"land"},"transform":[{"window":[{"op":"row_number","as":"o"}],"groupby":["g"]}],"mark":{"type":"line","fill":"#a6a6a6","stroke":"black","strokeWidth":1,"clip":true},"encoding":{"detail":{"field":"g"},"order":{"field":"o"}}},
{"data":{"name":"cont"},"transform":[{"window":[{"op":"row_number","as":"o"}],"groupby":["g"]}],"mark":{"type":"line","stroke":"black","strokeWidth":0.9,"strokeDash":[10,6],"clip":true},"encoding":{"detail":{"field":"g"},"order":{"field":"o"}}},
{"data":{"name":"st"},"transform":[{"filter":"datum.ys=='all'||indexof(datum.ys,'96')>=0"}],"mark":{"type":"point","shape":"square","size":14,"filled":false,"stroke":"black","strokeWidth":0.8,"opacity":1},"encoding":{}},
{"data":{"name":"pts"},"transform":[{"filter":"datum.y==1996"}],"mark":{"type":"point","filled":true,"color":"black","opacity":1,"shape":"circle"},"encoding":{"size":{"field":"n","type":"quantitative","legend":null,"scale":{"domain":[0.32,1.5,7.9,15.8,23.7,31.6],"range":[13,42,125,170,201,240]}}}},
{"data":{"name":"txt"},"transform":[{"filter":"datum.y==1996&&datum.k=='y'"}],"mark":{"type":"text","align":"right","baseline":"middle","fontSize":30,"fontWeight":"bold","color":"black"},"encoding":{"text":{"field":"t"}}},
{"data":{"name":"txt"},"transform":[{"filter":"datum.y==1996&&datum.k=='h'"}],"mark":{"type":"text","align":"left","baseline":"middle","fontSize":13,"color":"#333"},"encoding":{"text":{"field":"t"}}}]}
],"spacing":0,"bounds":"flush"},
{"width":1,"height":3,"data":{"name":"sp"},"mark":{"type":"rect","opacity":0},"encoding":{"x":{"value":0},"x2":{"value":"width"},"y":{"value":0},"y2":{"value":"height"}}},
{"hconcat":[{"width":43,"height":1,"data":{"name":"sp"},"mark":{"type":"rect","opacity":0},"encoding":{"x":{"value":0},"x2":{"value":"width"},"y":{"value":0},"y2":{"value":"height"}}},
{"width":453,"height":362,"view":{"stroke":"black"},"encoding":{"x":{"field":"lon","type":"quantitative","scale":{"domain":[68,61.94]},"axis":{"labelExpr":"datum.value%1==0?datum.value+'°':''"}},"y":{"field":"lat","type":"quantitative","scale":{"domain":[42,45.51]},"axis":{"labelExpr":"datum.value%1==0?datum.value+'°':''"}}},"layer":[
{"data":{"name":"land"},"transform":[{"window":[{"op":"row_number","as":"o"}],"groupby":["g"]}],"mark":{"type":"line","fill":"#a6a6a6","stroke":"black","strokeWidth":1,"clip":true},"encoding":{"detail":{"field":"g"},"order":{"field":"o"}}},
{"data":{"name":"cont"},"transform":[{"window":[{"op":"row_number","as":"o"}],"groupby":["g"]}],"mark":{"type":"line","stroke":"black","strokeWidth":0.9,"strokeDash":[10,6],"clip":true},"encoding":{"detail":{"field":"g"},"order":{"field":"o"}}},
{"data":{"name":"st"},"transform":[{"filter":"datum.ys=='all'||indexof(datum.ys,'98')>=0"}],"mark":{"type":"point","shape":"square","size":14,"filled":false,"stroke":"black","strokeWidth":0.8,"opacity":1},"encoding":{}},
{"data":{"name":"pts"},"transform":[{"filter":"datum.y==1998"}],"mark":{"type":"point","filled":true,"color":"black","opacity":1,"shape":"circle"},"encoding":{"size":{"field":"n","type":"quantitative","legend":null,"scale":{"domain":[0.32,1.5,7.9,15.8,23.7,31.6],"range":[13,42,125,170,201,240]}}}},
{"data":{"name":"txt"},"transform":[{"filter":"datum.y==1998&&datum.k=='y'"}],"mark":{"type":"text","align":"right","baseline":"middle","fontSize":30,"fontWeight":"bold","color":"black"},"encoding":{"text":{"field":"t"}}},
{"data":{"name":"txt"},"transform":[{"filter":"datum.y==1998&&datum.k=='h'"}],"mark":{"type":"text","align":"left","baseline":"middle","fontSize":13,"color":"#333"},"encoding":{"text":{"field":"t"}}}]}
],"spacing":0,"bounds":"flush"},
{"width":1,"height":9,"data":{"name":"sp"},"mark":{"type":"rect","opacity":0},"encoding":{"x":{"value":0},"x2":{"value":"width"},"y":{"value":0},"y2":{"value":"height"}}},
{"hconcat":[{"width":41,"height":1,"data":{"name":"sp"},"mark":{"type":"rect","opacity":0},"encoding":{"x":{"value":0},"x2":{"value":"width"},"y":{"value":0},"y2":{"value":"height"}}},
{"width":459,"height":364,"view":{"stroke":"black"},"encoding":{"x":{"field":"lon","type":"quantitative","scale":{"domain":[68,61.94]},"axis":{"labelExpr":"datum.value%1==0?datum.value+'°':''"}},"y":{"field":"lat","type":"quantitative","scale":{"domain":[42,45.51]},"axis":{"labelExpr":"datum.value%1==0?datum.value+'°':''"}}},"layer":[
{"data":{"name":"land"},"transform":[{"window":[{"op":"row_number","as":"o"}],"groupby":["g"]}],"mark":{"type":"line","fill":"#a6a6a6","stroke":"black","strokeWidth":1,"clip":true},"encoding":{"detail":{"field":"g"},"order":{"field":"o"}}},
{"data":{"name":"cont"},"transform":[{"window":[{"op":"row_number","as":"o"}],"groupby":["g"]}],"mark":{"type":"line","stroke":"black","strokeWidth":0.9,"strokeDash":[10,6],"clip":true},"encoding":{"detail":{"field":"g"},"order":{"field":"o"}}},
{"data":{"name":"st"},"transform":[{"filter":"datum.ys=='all'||indexof(datum.ys,'00')>=0"}],"mark":{"type":"point","shape":"square","size":14,"filled":false,"stroke":"black","strokeWidth":0.8,"opacity":1},"encoding":{}},
{"data":{"name":"pts"},"transform":[{"filter":"datum.y==2000"}],"mark":{"type":"point","filled":true,"color":"black","opacity":1,"shape":"circle"},"encoding":{"size":{"field":"n","type":"quantitative","legend":null,"scale":{"domain":[0.32,1.5,7.9,15.8,23.7,31.6],"range":[13,42,125,170,201,240]}}}},
{"data":{"name":"txt"},"transform":[{"filter":"datum.y==2000&&datum.k=='y'"}],"mark":{"type":"text","align":"right","baseline":"middle","fontSize":30,"fontWeight":"bold","color":"black"},"encoding":{"text":{"field":"t"}}},
{"data":{"name":"txt"},"transform":[{"filter":"datum.y==2000&&datum.k=='h'"}],"mark":{"type":"text","align":"left","baseline":"middle","fontSize":13,"color":"#333"},"encoding":{"text":{"field":"t"}}}]}
],"spacing":0,"bounds":"flush"},
{"width":1,"height":18,"data":{"name":"sp"},"mark":{"type":"rect","opacity":0},"encoding":{"x":{"value":0},"x2":{"value":"width"},"y":{"value":0},"y2":{"value":"height"}}},
{"hconcat":[{"width":49,"height":1,"data":{"name":"sp"},"mark":{"type":"rect","opacity":0},"encoding":{"x":{"value":0},"x2":{"value":"width"},"y":{"value":0},"y2":{"value":"height"}}},
{"width":462,"height":361,"view":{"stroke":"black"},"encoding":{"x":{"field":"lon","type":"quantitative","scale":{"domain":[68,61.94]},"axis":{"labelExpr":"datum.value%1==0?datum.value+'°':''"}},"y":{"field":"lat","type":"quantitative","scale":{"domain":[42,45.51]},"axis":{"labelExpr":"datum.value%1==0?datum.value+'°':''"}}},"layer":[
{"data":{"name":"land"},"transform":[{"window":[{"op":"row_number","as":"o"}],"groupby":["g"]}],"mark":{"type":"line","fill":"#a6a6a6","stroke":"black","strokeWidth":1,"clip":true},"encoding":{"detail":{"field":"g"},"order":{"field":"o"}}},
{"data":{"name":"cont"},"transform":[{"window":[{"op":"row_number","as":"o"}],"groupby":["g"]}],"mark":{"type":"line","stroke":"black","strokeWidth":0.9,"strokeDash":[10,6],"clip":true},"encoding":{"detail":{"field":"g"},"order":{"field":"o"}}},
{"data":{"name":"st"},"transform":[{"filter":"datum.ys=='all'||indexof(datum.ys,'02')>=0"}],"mark":{"type":"point","shape":"square","size":14,"filled":false,"stroke":"black","strokeWidth":0.8,"opacity":1},"encoding":{}},
{"data":{"name":"pts"},"transform":[{"filter":"datum.y==2002"}],"mark":{"type":"point","filled":true,"color":"black","opacity":1,"shape":"circle"},"encoding":{"size":{"field":"n","type":"quantitative","legend":null,"scale":{"domain":[0.32,1.5,7.9,15.8,23.7,31.6],"range":[13,42,125,170,201,240]}}}},
{"data":{"name":"txt"},"transform":[{"filter":"datum.y==2002&&datum.k=='y'"}],"mark":{"type":"text","align":"right","baseline":"middle","fontSize":30,"fontWeight":"bold","color":"black"},"encoding":{"text":{"field":"t"}}},
{"data":{"name":"txt"},"transform":[{"filter":"datum.y==2002&&datum.k=='h'"}],"mark":{"type":"text","align":"left","baseline":"middle","fontSize":13,"color":"#333"},"encoding":{"text":{"field":"t"}}}]}
],"spacing":0,"bounds":"flush"}
],"spacing":0,"align":"none"},
{"vconcat":[
{"width":1,"height":3,"data":{"name":"sp"},"mark":{"type":"rect","opacity":0},"encoding":{"x":{"value":0},"x2":{"value":"width"},"y":{"value":0},"y2":{"value":"height"}}},
{"hconcat":[{"width":44,"height":1,"data":{"name":"sp"},"mark":{"type":"rect","opacity":0},"encoding":{"x":{"value":0},"x2":{"value":"width"},"y":{"value":0},"y2":{"value":"height"}}},
{"width":453,"height":361,"view":{"stroke":"black"},"encoding":{"x":{"field":"lon","type":"quantitative","scale":{"domain":[68,61.94]},"axis":{"labelExpr":"datum.value%1==0?datum.value+'°':''"}},"y":{"field":"lat","type":"quantitative","scale":{"domain":[42,45.51]},"axis":{"labelExpr":"datum.value%1==0?datum.value+'°':''"}}},"layer":[
{"data":{"name":"land"},"transform":[{"window":[{"op":"row_number","as":"o"}],"groupby":["g"]}],"mark":{"type":"line","fill":"#a6a6a6","stroke":"black","strokeWidth":1,"clip":true},"encoding":{"detail":{"field":"g"},"order":{"field":"o"}}},
{"data":{"name":"cont"},"transform":[{"window":[{"op":"row_number","as":"o"}],"groupby":["g"]}],"mark":{"type":"line","stroke":"black","strokeWidth":0.9,"strokeDash":[10,6],"clip":true},"encoding":{"detail":{"field":"g"},"order":{"field":"o"}}},
{"data":{"name":"st"},"transform":[{"filter":"datum.ys=='all'||indexof(datum.ys,'97')>=0"}],"mark":{"type":"point","shape":"square","size":14,"filled":false,"stroke":"black","strokeWidth":0.8,"opacity":1},"encoding":{}},
{"data":{"name":"pts"},"transform":[{"filter":"datum.y==1997"}],"mark":{"type":"point","filled":true,"color":"black","opacity":1,"shape":"circle"},"encoding":{"size":{"field":"n","type":"quantitative","legend":null,"scale":{"domain":[0.32,1.5,7.9,15.8,23.7,31.6],"range":[13,42,125,170,201,240]}}}},
{"data":{"name":"txt"},"transform":[{"filter":"datum.y==1997&&datum.k=='y'"}],"mark":{"type":"text","align":"right","baseline":"middle","fontSize":30,"fontWeight":"bold","color":"black"},"encoding":{"text":{"field":"t"}}},
{"data":{"name":"txt"},"transform":[{"filter":"datum.y==1997&&datum.k=='h'"}],"mark":{"type":"text","align":"left","baseline":"middle","fontSize":13,"color":"#333"},"encoding":{"text":{"field":"t"}}}]}
],"spacing":0,"bounds":"flush"},
{"width":1,"height":2,"data":{"name":"sp"},"mark":{"type":"rect","opacity":0},"encoding":{"x":{"value":0},"x2":{"value":"width"},"y":{"value":0},"y2":{"value":"height"}}},
{"hconcat":[{"width":44,"height":1,"data":{"name":"sp"},"mark":{"type":"rect","opacity":0},"encoding":{"x":{"value":0},"x2":{"value":"width"},"y":{"value":0},"y2":{"value":"height"}}},
{"width":456,"height":348,"view":{"stroke":"black"},"encoding":{"x":{"field":"lon","type":"quantitative","scale":{"domain":[68,61.94]},"axis":{"labelExpr":"datum.value%1==0?datum.value+'°':''"}},"y":{"field":"lat","type":"quantitative","scale":{"domain":[42,45.51]},"axis":{"labelExpr":"datum.value%1==0?datum.value+'°':''"}}},"layer":[
{"data":{"name":"land"},"transform":[{"window":[{"op":"row_number","as":"o"}],"groupby":["g"]}],"mark":{"type":"line","fill":"#a6a6a6","stroke":"black","strokeWidth":1,"clip":true},"encoding":{"detail":{"field":"g"},"order":{"field":"o"}}},
{"data":{"name":"cont"},"transform":[{"window":[{"op":"row_number","as":"o"}],"groupby":["g"]}],"mark":{"type":"line","stroke":"black","strokeWidth":0.9,"strokeDash":[10,6],"clip":true},"encoding":{"detail":{"field":"g"},"order":{"field":"o"}}},
{"data":{"name":"st"},"transform":[{"filter":"datum.ys=='all'||indexof(datum.ys,'99')>=0"}],"mark":{"type":"point","shape":"square","size":14,"filled":false,"stroke":"black","strokeWidth":0.8,"opacity":1},"encoding":{}},
{"data":{"name":"pts"},"transform":[{"filter":"datum.y==1999"}],"mark":{"type":"point","filled":true,"color":"black","opacity":1,"shape":"circle"},"encoding":{"size":{"field":"n","type":"quantitative","legend":null,"scale":{"domain":[0.32,1.5,7.9,15.8,23.7,31.6],"range":[13,42,125,170,201,240]}}}},
{"data":{"name":"txt"},"transform":[{"filter":"datum.y==1999&&datum.k=='y'"}],"mark":{"type":"text","align":"right","baseline":"middle","fontSize":30,"fontWeight":"bold","color":"black"},"encoding":{"text":{"field":"t"}}},
{"data":{"name":"txt"},"transform":[{"filter":"datum.y==1999&&datum.k=='h'"}],"mark":{"type":"text","align":"left","baseline":"middle","fontSize":13,"color":"#333"},"encoding":{"text":{"field":"t"}}}]}
],"spacing":0,"bounds":"flush"},
{"width":1,"height":15,"data":{"name":"sp"},"mark":{"type":"rect","opacity":0},"encoding":{"x":{"value":0},"x2":{"value":"width"},"y":{"value":0},"y2":{"value":"height"}}},
{"hconcat":[{"width":48,"height":1,"data":{"name":"sp"},"mark":{"type":"rect","opacity":0},"encoding":{"x":{"value":0},"x2":{"value":"width"},"y":{"value":0},"y2":{"value":"height"}}},
{"width":452,"height":358,"view":{"stroke":"black"},"encoding":{"x":{"field":"lon","type":"quantitative","scale":{"domain":[68,61.94]},"axis":{"labelExpr":"datum.value%1==0?datum.value+'°':''"}},"y":{"field":"lat","type":"quantitative","scale":{"domain":[42,45.51]},"axis":{"labelExpr":"datum.value%1==0?datum.value+'°':''"}}},"layer":[
{"data":{"name":"land"},"transform":[{"window":[{"op":"row_number","as":"o"}],"groupby":["g"]}],"mark":{"type":"line","fill":"#a6a6a6","stroke":"black","strokeWidth":1,"clip":true},"encoding":{"detail":{"field":"g"},"order":{"field":"o"}}},
{"data":{"name":"cont"},"transform":[{"window":[{"op":"row_number","as":"o"}],"groupby":["g"]}],"mark":{"type":"line","stroke":"black","strokeWidth":0.9,"strokeDash":[10,6],"clip":true},"encoding":{"detail":{"field":"g"},"order":{"field":"o"}}},
{"data":{"name":"st"},"transform":[{"filter":"datum.ys=='all'||indexof(datum.ys,'01')>=0"}],"mark":{"type":"point","shape":"square","size":14,"filled":false,"stroke":"black","strokeWidth":0.8,"opacity":1},"encoding":{}},
{"data":{"name":"pts"},"transform":[{"filter":"datum.y==2001"}],"mark":{"type":"point","filled":true,"color":"black","opacity":1,"shape":"circle"},"encoding":{"size":{"field":"n","type":"quantitative","legend":null,"scale":{"domain":[0.32,1.5,7.9,15.8,23.7,31.6],"range":[13,42,125,170,201,240]}}}},
{"data":{"name":"txt"},"transform":[{"filter":"datum.y==2001&&datum.k=='y'"}],"mark":{"type":"text","align":"right","baseline":"middle","fontSize":30,"fontWeight":"bold","color":"black"},"encoding":{"text":{"field":"t"}}},
{"data":{"name":"txt"},"transform":[{"filter":"datum.y==2001&&datum.k=='h'"}],"mark":{"type":"text","align":"left","baseline":"middle","fontSize":13,"color":"#333"},"encoding":{"text":{"field":"t"}}}]}
],"spacing":0,"bounds":"flush"},
{"width":1,"height":26,"data":{"name":"sp"},"mark":{"type":"rect","opacity":0},"encoding":{"x":{"value":0},"x2":{"value":"width"},"y":{"value":0},"y2":{"value":"height"}}},
{"hconcat":[{"width":50,"height":1,"data":{"name":"sp"},"mark":{"type":"rect","opacity":0},"encoding":{"x":{"value":0},"x2":{"value":"width"},"y":{"value":0},"y2":{"value":"height"}}},
{"width":459,"height":366,"view":{"stroke":"black"},"encoding":{"x":{"field":"lon","type":"quantitative","scale":{"domain":[68,61.94]},"axis":{"labelExpr":"datum.value%1==0?datum.value+'°':''"}},"y":{"field":"lat","type":"quantitative","scale":{"domain":[42,45.51]},"axis":{"labelExpr":"datum.value%1==0?datum.value+'°':''"}}},"layer":[
{"data":{"name":"land"},"transform":[{"window":[{"op":"row_number","as":"o"}],"groupby":["g"]}],"mark":{"type":"line","fill":"#a6a6a6","stroke":"black","strokeWidth":1,"clip":true},"encoding":{"detail":{"field":"g"},"order":{"field":"o"}}},
{"data":{"name":"cont"},"transform":[{"window":[{"op":"row_number","as":"o"}],"groupby":["g"]}],"mark":{"type":"line","stroke":"black","strokeWidth":0.9,"strokeDash":[10,6],"clip":true},"encoding":{"detail":{"field":"g"},"order":{"field":"o"}}},
{"data":{"name":"st"},"transform":[{"filter":"datum.ys=='all'||indexof(datum.ys,'03')>=0"}],"mark":{"type":"point","shape":"square","size":14,"filled":false,"stroke":"black","strokeWidth":0.8,"opacity":1},"encoding":{}},
{"data":{"name":"pts"},"transform":[{"filter":"datum.y==2003"}],"mark":{"type":"point","filled":true,"color":"black","opacity":1,"shape":"circle"},"encoding":{"size":{"field":"n","type":"quantitative","legend":null,"scale":{"domain":[0.32,1.5,7.9,15.8,23.7,31.6],"range":[13,42,125,170,201,240]}}}},
{"data":{"name":"txt"},"transform":[{"filter":"datum.y==2003&&datum.k=='y'"}],"mark":{"type":"text","align":"right","baseline":"middle","fontSize":30,"fontWeight":"bold","color":"black"},"encoding":{"text":{"field":"t"}}},
{"data":{"name":"txt"},"transform":[{"filter":"datum.y==2003&&datum.k=='h'"}],"mark":{"type":"text","align":"left","baseline":"middle","fontSize":13,"color":"#333"},"encoding":{"text":{"field":"t"}}}]}
],"spacing":0,"bounds":"flush"}
],"spacing":0,"align":"none"},
{"hconcat":[{"width":14,"height":1,"data":{"name":"sp"},"mark":{"type":"rect","opacity":0},"encoding":{"x":{"value":0},"x2":{"value":"width"},"y":{"value":0},"y2":{"value":"height"}}},
{"vconcat":[
{"width":1,"height":169,"data":{"name":"sp"},"mark":{"type":"rect","opacity":0},"encoding":{"x":{"value":0},"x2":{"value":"width"},"y":{"value":0},"y2":{"value":"height"}}},
{"width":54,"height":144,"view":{"fill":"#e6e6e6"},"data":{"name":"leg"},"encoding":{"y":{"field":"l","type":"ordinal","axis":null,"scale":{"type":"point","domain":["0.32","7.9","15.8","23.7","31.6","0"],"padding":0.93}}},"layer":[
{"transform":[{"filter":"datum.n>0"}],"mark":{"type":"point","filled":true,"color":"black","opacity":1,"shape":"circle"},"encoding":{"x":{"datum":-0.5,"type":"quantitative","scale":{"domain":[-1,1]},"axis":null},"size":{"field":"n","type":"quantitative","legend":null,"scale":{"domain":[0.32,1.5,7.9,15.8,23.7,31.6],"range":[13,42,125,170,201,240]}}}},
{"transform":[{"filter":"datum.n==0"}],"mark":{"type":"point","shape":"square","size":14,"filled":false,"stroke":"black","strokeWidth":0.8,"opacity":1},"encoding":{"x":{"datum":-0.5,"type":"quantitative","scale":{"domain":[-1,1]},"axis":null}}},
{"mark":{"type":"text","align":"left","baseline":"middle","fontSize":13,"color":"#222"},"encoding":{"x":{"datum":-0.03,"type":"quantitative","scale":{"domain":[-1,1]},"axis":null},"text":{"field":"l"}}}]},
{"width":1,"height":1055,"data":{"name":"sp"},"mark":{"type":"rect","opacity":0},"encoding":{"x":{"value":0},"x2":{"value":"width"},"y":{"value":0},"y2":{"value":"height"}}},
{"hconcat":[{"width":14,"height":1,"data":{"name":"sp"},"mark":{"type":"rect","opacity":0},"encoding":{"x":{"value":0},"x2":{"value":"width"},"y":{"value":0},"y2":{"value":"height"}}},
{"width":3,"height":146,"data":{"name":"sp"},"mark":{"type":"rect","color":"#e8e8e8"},"encoding":{"x":{"value":0},"x2":{"value":"width"},"y":{"value":0},"y2":{"value":"height"}}}],"spacing":0,"bounds":"flush"}
],"spacing":0,"align":"none"}
],"spacing":0,"bounds":"flush"}
]}
